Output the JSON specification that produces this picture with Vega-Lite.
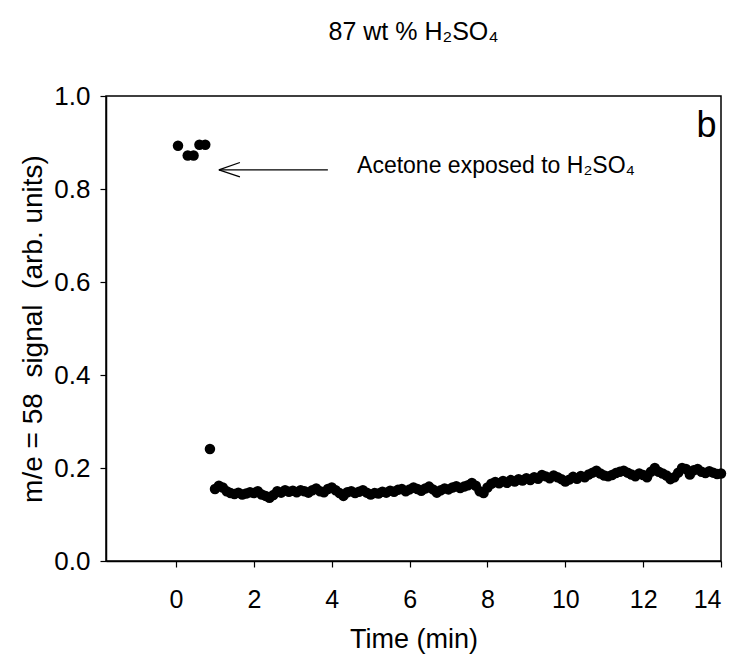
{
  "$schema": "https://vega.github.io/schema/vega-lite/v6.json",
  "autosize": {"type": "none"},
  "padding": {"left": 106, "top": 96, "right": 17, "bottom": 96},
  "width": 615,
  "height": 465,
  "background": "white",
  "config": {
    "font": "Liberation Sans",
    "view": {"stroke": "black", "strokeWidth": 1.5},
    "axis": {"grid": false, "domainColor": "black", "tickColor": "black", "labelColor": "black", "titleColor": "black", "domainWidth": 1.5, "tickWidth": 1.2, "tickSize": 6, "labelFont": "Liberation Sans", "titleFont": "Liberation Sans", "titleFontWeight": "normal"}
  },
  "title": {"text": "87 wt % H₂SO₄", "fontSize": 25, "fontWeight": "normal", "color": "black", "anchor": "middle", "offset": 38},
  "datasets": {
    "signal": [
      {"t": 0.05, "s": 0.893}, {"t": 0.3, "s": 0.872}, {"t": 0.45, "s": 0.872}, {"t": 0.6, "s": 0.895}, {"t": 0.75, "s": 0.895},
      {"t": 0.87, "s": 0.241},
      {"t": 1.0, "s": 0.155}, {"t": 1.1, "s": 0.162}, {"t": 1.2, "s": 0.158}, {"t": 1.3, "s": 0.150}, {"t": 1.4, "s": 0.146},
      {"t": 1.5, "s": 0.144}, {"t": 1.6, "s": 0.147}, {"t": 1.7, "s": 0.143}, {"t": 1.8, "s": 0.145}, {"t": 1.9, "s": 0.148},
      {"t": 2.0, "s": 0.146}, {"t": 2.1, "s": 0.150}, {"t": 2.2, "s": 0.143}, {"t": 2.3, "s": 0.140}, {"t": 2.4, "s": 0.136},
      {"t": 2.5, "s": 0.142}, {"t": 2.6, "s": 0.150}, {"t": 2.7, "s": 0.147}, {"t": 2.8, "s": 0.152}, {"t": 2.9, "s": 0.149},
      {"t": 3.0, "s": 0.151}, {"t": 3.1, "s": 0.148}, {"t": 3.2, "s": 0.152}, {"t": 3.3, "s": 0.150}, {"t": 3.4, "s": 0.147},
      {"t": 3.5, "s": 0.152}, {"t": 3.6, "s": 0.156}, {"t": 3.7, "s": 0.150}, {"t": 3.8, "s": 0.148}, {"t": 3.9, "s": 0.155},
      {"t": 4.0, "s": 0.158}, {"t": 4.1, "s": 0.152}, {"t": 4.2, "s": 0.146}, {"t": 4.3, "s": 0.140}, {"t": 4.4, "s": 0.148},
      {"t": 4.5, "s": 0.150}, {"t": 4.6, "s": 0.146}, {"t": 4.7, "s": 0.149}, {"t": 4.8, "s": 0.152}, {"t": 4.9, "s": 0.147},
      {"t": 5.0, "s": 0.143}, {"t": 5.1, "s": 0.146}, {"t": 5.2, "s": 0.145}, {"t": 5.3, "s": 0.149}, {"t": 5.4, "s": 0.147},
      {"t": 5.5, "s": 0.151}, {"t": 5.6, "s": 0.149}, {"t": 5.7, "s": 0.153}, {"t": 5.8, "s": 0.155}, {"t": 5.9, "s": 0.150},
      {"t": 6.0, "s": 0.154}, {"t": 6.1, "s": 0.158}, {"t": 6.2, "s": 0.155}, {"t": 6.3, "s": 0.151}, {"t": 6.4, "s": 0.156},
      {"t": 6.5, "s": 0.160}, {"t": 6.6, "s": 0.154}, {"t": 6.7, "s": 0.147}, {"t": 6.8, "s": 0.152}, {"t": 6.9, "s": 0.156},
      {"t": 7.0, "s": 0.154}, {"t": 7.1, "s": 0.158}, {"t": 7.2, "s": 0.161}, {"t": 7.3, "s": 0.157}, {"t": 7.4, "s": 0.160},
      {"t": 7.5, "s": 0.163}, {"t": 7.6, "s": 0.168}, {"t": 7.7, "s": 0.162}, {"t": 7.8, "s": 0.150}, {"t": 7.9, "s": 0.146},
      {"t": 8.0, "s": 0.158}, {"t": 8.1, "s": 0.166}, {"t": 8.2, "s": 0.170}, {"t": 8.3, "s": 0.167}, {"t": 8.4, "s": 0.172},
      {"t": 8.5, "s": 0.168}, {"t": 8.6, "s": 0.174}, {"t": 8.7, "s": 0.171}, {"t": 8.8, "s": 0.176}, {"t": 8.9, "s": 0.173},
      {"t": 9.0, "s": 0.178}, {"t": 9.1, "s": 0.174}, {"t": 9.2, "s": 0.180}, {"t": 9.3, "s": 0.177}, {"t": 9.4, "s": 0.185},
      {"t": 9.5, "s": 0.182}, {"t": 9.6, "s": 0.178}, {"t": 9.7, "s": 0.184}, {"t": 9.8, "s": 0.180}, {"t": 9.9, "s": 0.176},
      {"t": 10.0, "s": 0.171}, {"t": 10.1, "s": 0.175}, {"t": 10.2, "s": 0.181}, {"t": 10.3, "s": 0.177}, {"t": 10.4, "s": 0.183},
      {"t": 10.5, "s": 0.180}, {"t": 10.6, "s": 0.186}, {"t": 10.7, "s": 0.190}, {"t": 10.8, "s": 0.194}, {"t": 10.9, "s": 0.188},
      {"t": 11.0, "s": 0.184}, {"t": 11.1, "s": 0.182}, {"t": 11.2, "s": 0.185}, {"t": 11.3, "s": 0.189}, {"t": 11.4, "s": 0.192},
      {"t": 11.5, "s": 0.194}, {"t": 11.6, "s": 0.190}, {"t": 11.7, "s": 0.186}, {"t": 11.8, "s": 0.182}, {"t": 11.9, "s": 0.188},
      {"t": 12.0, "s": 0.185}, {"t": 12.1, "s": 0.180}, {"t": 12.2, "s": 0.192}, {"t": 12.3, "s": 0.200}, {"t": 12.4, "s": 0.192},
      {"t": 12.5, "s": 0.188}, {"t": 12.6, "s": 0.184}, {"t": 12.7, "s": 0.176}, {"t": 12.8, "s": 0.180}, {"t": 12.9, "s": 0.190},
      {"t": 13.0, "s": 0.200}, {"t": 13.1, "s": 0.198}, {"t": 13.2, "s": 0.186}, {"t": 13.3, "s": 0.195}, {"t": 13.4, "s": 0.198},
      {"t": 13.5, "s": 0.192}, {"t": 13.6, "s": 0.189}, {"t": 13.7, "s": 0.193}, {"t": 13.8, "s": 0.190}, {"t": 13.9, "s": 0.187},
      {"t": 14.0, "s": 0.188}
    ],
    "arrow": [
      {"x1": 1.1, "y1": 0.841, "x2": 3.9, "y2": 0.841},
      {"x1": 1.1, "y1": 0.841, "x2": 1.64, "y2": 0.857},
      {"x1": 1.1, "y1": 0.841, "x2": 1.64, "y2": 0.826}
    ],
    "labels": [
      {"x": 4.65, "y": 0.834, "label": "Acetone exposed to H₂SO₄"}
    ],
    "panel": [
      {"x": 13.63, "y": 0.935, "label": "b"}
    ]
  },
  "layer": [
    {
      "data": {"name": "signal"},
      "mark": {"type": "point", "filled": true, "color": "black", "opacity": 1, "size": 110},
      "encoding": {
        "x": {"field": "t", "type": "quantitative", "scale": {"domain": [-1.8, 14], "nice": false, "zero": false},
          "axis": {"values": [0, 2, 4, 6, 8, 10, 12, 14], "title": "Time (min)", "labelFontSize": 25, "titleFontSize": 27, "labelPadding": 20, "titlePadding": 14}},
        "y": {"field": "s", "type": "quantitative", "scale": {"domain": [0, 1], "nice": false},
          "axis": {"values": [0, 0.2, 0.4, 0.6, 0.8, 1.0], "format": ".1f", "title": "m/e = 58\u00a0\u00a0signal\u00a0\u00a0(arb. units)", "labelFontSize": 26, "titleFontSize": 28, "labelPadding": 10, "titlePadding": 6}}
      }
    },
    {
      "data": {"name": "arrow"},
      "mark": {"type": "rule", "color": "black", "strokeWidth": 1.3},
      "encoding": {
        "x": {"field": "x1", "type": "quantitative"},
        "y": {"field": "y1", "type": "quantitative"},
        "x2": {"field": "x2"},
        "y2": {"field": "y2"}
      }
    },
    {
      "data": {"name": "labels"},
      "mark": {"type": "text", "align": "left", "baseline": "alphabetic", "fontSize": 23, "color": "black"},
      "encoding": {
        "x": {"field": "x", "type": "quantitative"},
        "y": {"field": "y", "type": "quantitative"},
        "text": {"field": "label"}
      }
    },
    {
      "data": {"name": "panel"},
      "mark": {"type": "text", "align": "center", "baseline": "middle", "fontSize": 36, "color": "black"},
      "encoding": {
        "x": {"field": "x", "type": "quantitative"},
        "y": {"field": "y", "type": "quantitative"},
        "text": {"field": "label"}
      }
    }
  ]
}
